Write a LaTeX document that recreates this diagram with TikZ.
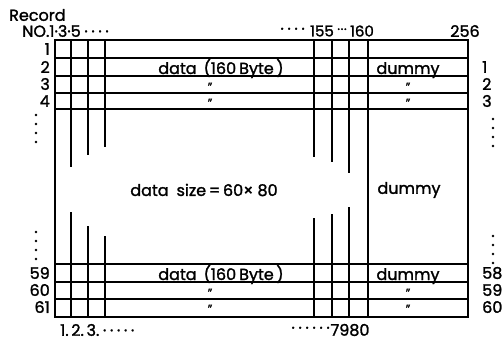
\documentclass[tikz,border=0pt]{standalone}
\usepackage{fontspec}
\setmainfont{Poppins}[FakeBold=1.5]
\usepackage{tikz}
\newcommand{\sdots}[1]{\foreach \i in {1,...,#1}{\hspace{3.6pt}·}}
\begin{document}
\begin{tikzpicture}[x=1pt,y=-1pt,font=\fontsize{16}{18}\selectfont,
      grid/.style={line width=1.2pt},
      frame/.style={line width=1.8pt},
      num/.style={inner sep=0pt},
      ditto/.style={inner sep=0pt, font=\fontsize{12}{12}\selectfont}]
  \useasboundingbox (0,0) rectangle (503,342);
  % record rows
  \foreach \y in {58,76,93,109,264,282,299}
    \draw[grid] (55,\y) -- (468,\y);
  % byte columns, broken in the middle
  \foreach \x/\a/\b in {71/167/212, 88/155/226, 105/147/236,
                        314/157/218, 332/162/214, 349/173/207} {
    \draw[grid] (\x,40) -- (\x,\a);
    \draw[grid] (\x,\b) -- (\x,317);
  }
  \draw[line width=2.3pt] (368,40) -- (368,317);
  \draw[frame] (55,40) rectangle (468,317);

  % headings
  \node[num, anchor=west] (rec) at (9,15) {Record};
  \node[num, anchor=west] (no) at (22,31) {NO.1·3·5\sdots{4}};
  \node[num, anchor=east] (dots155) at (305,31) {\sdots{4}};
  \node[num, font=\fontsize{15}{15}\selectfont] (top155) at (322,31) {155};
  \node[num, font=\fontsize{13}{13}\selectfont] (dots160) at (342,31) {·\hspace{0.6pt}·\hspace{0.6pt}·};
  \node[num, font=\fontsize{15}{15}\selectfont] (top160) at (362,31) {160};
  \node[num] (top256) at (465,31) {256};
  \node[num, anchor=west] (bot1) at (60,330) {1.\,2.\,3.\sdots{5}};
  \node[num, anchor=east] (botdots) at (330,330) {\sdots{6}};
  \node[num] (bot80) at (350,330) {7980};

  % record numbers
  \foreach \n/\y in {1/49,2/67,3/84,4/101,59/273,60/290,61/307}
    \node[num, anchor=east] (l\n) at (50,\y) {\n};
  \foreach \n/\y in {1/67,2/84,3/101,58/273,59/290,60/307}
    \node[num, anchor=west] (r\n) at (482,\y) {\n};
  \foreach \y in {115,124,133,142,232,241,250,259} {
    \fill (36,\y) circle (1.3pt);
    \fill (493,\y+4) circle (1.3pt);
  }

  % cell contents
  \node[num, anchor=base] (data1) at (221,74) {data\hspace{7pt}(160\hspace{3pt}Byte\,)};
  \node[num, anchor=base] (dum1) at (408,74) {dummy};
  \node[num, anchor=base] (data59) at (221,280) {data\hspace{7pt}(160\hspace{3pt}Byte\,)};
  \node[num, anchor=base] (dum59) at (408,280) {dummy};
  \foreach \y/\k in {87/3,103/4,293/60,309/61} {
    \node[ditto] (dd\k) at (210,\y) {''};
    \node[ditto] (dm\k) at (408,\y) {''};
  }
  \node[num] (size) at (204,190) {data\hspace{8pt}size\,=\,60×\hspace{4pt}80};
  \node[num] (dummid) at (409,190) {dummy};
\end{tikzpicture}
\end{document}
